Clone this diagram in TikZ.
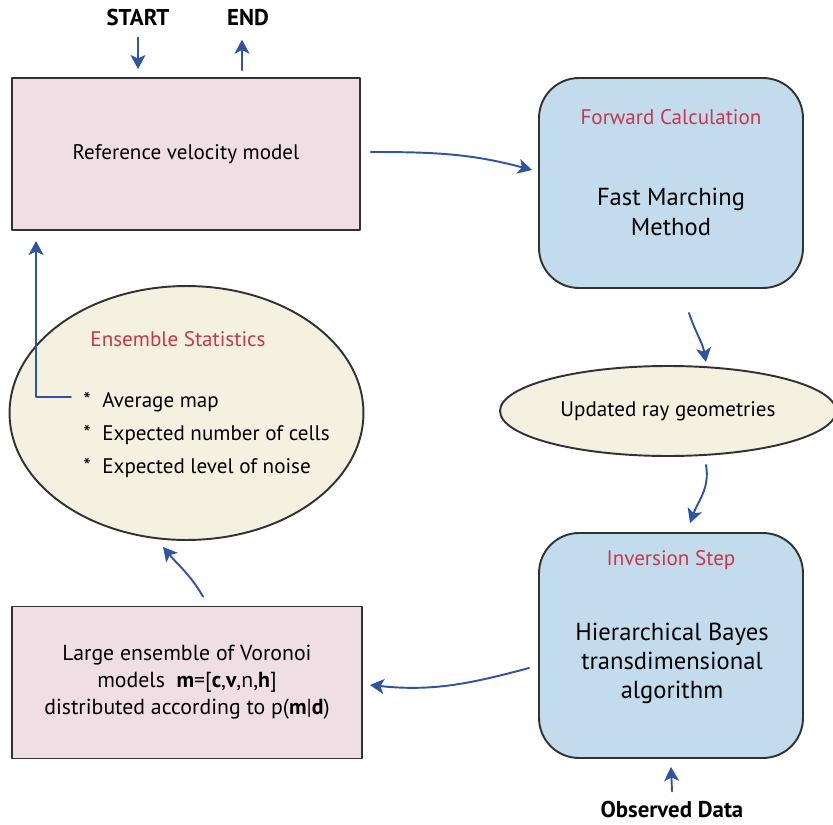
\documentclass[tikz,border=0pt]{standalone}
\usepackage{fontspec}
\setmainfont{PT Sans}
\usetikzlibrary{arrows.meta,shapes.geometric,positioning}
\definecolor{boxpink}{RGB}{239,223,228}
\definecolor{boxblue}{RGB}{194,220,238}
\definecolor{boxcream}{RGB}{245,241,225}
\definecolor{titlered}{RGB}{200,55,74}
\definecolor{flowblue}{RGB}{47,84,160}
\definecolor{edge}{RGB}{50,50,50}
\tikzset{
  every picture/.style={line join=round, line cap=round, >=Stealth},
  flow/.style={-{Stealth[length=8pt,width=8.5pt,inset=2pt]}, draw=flowblue, line width=1.1pt},
  pinkbox/.style={draw=edge, fill=boxpink, line width=1.1pt, align=center, inner sep=0pt},
  bluebox/.style={draw=edge, fill=boxblue, line width=1.1pt, rounded corners=0.8cm, minimum width=5.28cm, inner sep=0pt},
  creamell/.style={ellipse, draw=edge, fill=boxcream, line width=1.1pt, inner sep=0pt},
  redtitle/.style={text=titlered, inner sep=0pt},
  bigtext/.style={font=\fontsize{14}{17}\selectfont, align=center, inner sep=0pt},
  item/.style={anchor=base west, inner sep=0pt},
  endpoint/.style={font=\fontsize{13}{15}\selectfont\bfseries, inner sep=0pt},
}

\begin{document}
\begin{tikzpicture}[x=0.02cm,y=-0.02cm,font=\fontsize{12}{15.4}\selectfont]
\useasboundingbox (0,0) rectangle (833,825);
\node[pinkbox, minimum width=6.96cm, minimum height=3.04cm] (ref) at (186,154) {Reference velocity model};
\node[bluebox, minimum height=4.2cm] (fwd) at (671,183) {};
\node[redtitle] (fwdtitle) at (671,117) {Forward Calculation};
\node[bigtext] (fmm) at (671,212) {Fast Marching\\Method};
\node[creamell, minimum width=6.72cm, minimum height=1.8cm] (rays) at (668,411) {Updated ray geometries};
\node[bluebox, minimum height=4.5cm] (inv) at (671,645.5) {};
\node[redtitle] (invtitle) at (671,560) {Inversion Step};
\node[bigtext, font=\fontsize{14}{16.5}\selectfont] (hbt) at (672,663) {Hierarchical Bayes\\transdimensional\\algorithm};
\node[pinkbox, minimum width=7.0cm, minimum height=3.04cm, font=\fontsize{12.4}{15.4}\selectfont] (ens) at (187,682.5) {Large ensemble of Voronoi\\models\ \ \textbf{m}=[\textbf{c},\textbf{v},n,\textbf{h}]\\distributed according to p(\textbf{m}|\textbf{d})};
\node[creamell, minimum width=7.08cm, minimum height=5.08cm] (stats) at (186.5,413) {};
\node[redtitle] (statstitle) at (178,339) {Ensemble Statistics};
\node[item] (avg) at (83,407) {*\hspace{0.55em}Average map};
\node[item] (cells) at (83,440) {*\hspace{0.55em}Expected number of cells};
\node[item] (noise) at (83,473) {*\hspace{0.55em}Expected level of noise};
\node[endpoint] (start) at (138,18) {START};
\node[endpoint] (end) at (248,18) {END};
\node[endpoint] (obs) at (672,810) {Observed Data};
\draw[flow] ([yshift=-0.22cm]start.south) -- ([yshift=0.16cm]start.south |- ref.north);
\draw[flow] ([xshift=-0.12cm,yshift=0.14cm]end.south |- ref.north) -- ([xshift=-0.12cm,yshift=-0.26cm]end.south);
\draw[flow] ([xshift=0.2cm,yshift=0.04cm]ref.east) to[out=0,in=165] ([xshift=-0.12cm,yshift=0.26cm]fwd.west);
\draw[flow] ([xshift=0.36cm,yshift=-0.48cm]fwd.south) to[out=-72,in=100] ([xshift=0.76cm,yshift=0.06cm]rays.north);
\draw[flow] ([xshift=0.76cm,yshift=-0.16cm]rays.south) to[out=-80,in=70] ([xshift=0.38cm,yshift=0.18cm]inv.north);
\draw[flow] ([xshift=-0.18cm,yshift=-0.45cm]inv.west) to[out=195,in=-6] ([xshift=0.14cm,yshift=-0.05cm]ens.east);
\draw[flow] ([xshift=0.32cm,yshift=0.18cm]ens.north) to[out=120,in=-50] ([xshift=-0.47cm,yshift=-0.12cm]stats.south);
\draw[flow] ([yshift=0.2cm]obs.north) -- ([yshift=-0.16cm]inv.south);
\draw[flow] ([xshift=-0.24cm,yshift=0.1cm]avg.west) -| ([xshift=0.5cm,yshift=-0.2cm]ref.south west);
\end{tikzpicture}
\end{document}
